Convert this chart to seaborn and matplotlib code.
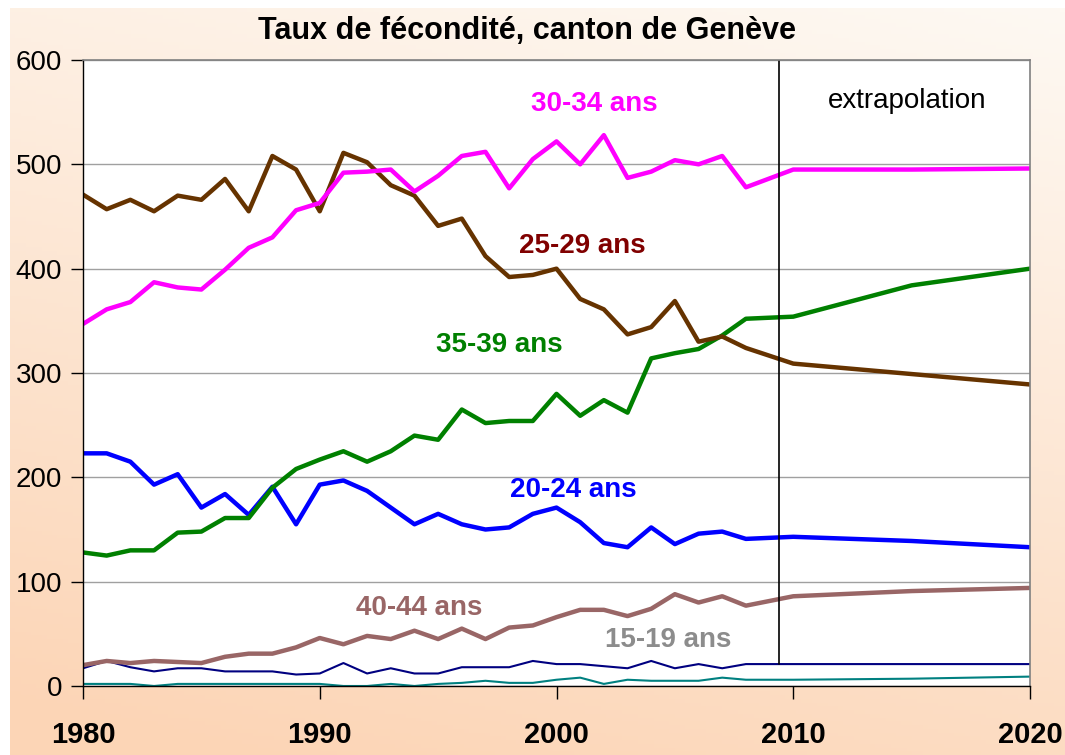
import numpy as np
import pandas as pd
import matplotlib
matplotlib.use('Agg')
import matplotlib.pyplot as plt
import seaborn as sns

# Years: observed 1980-2008, then extrapolation points
years = [1980, 1981, 1982, 1983, 1984, 1985, 1986, 1987, 1988, 1989,
         1990, 1991, 1992, 1993, 1994, 1995, 1996, 1997, 1998, 1999,
         2000, 2001, 2002, 2003, 2004, 2005, 2006, 2007, 2008,
         2010, 2015, 2020]

# Fertility rates per age group
ans_30_34 = [347, 361, 368, 387, 382, 380, 399, 420, 430, 456,
             463, 492, 493, 495, 474, 489, 508, 512, 477, 505,
             522, 500, 528, 487, 493, 504, 500, 508, 478,
             495, 495, 496]
ans_25_29 = [471, 457, 466, 455, 470, 466, 486, 455, 508, 495,
             455, 511, 502, 480, 470, 441, 448, 412, 392, 394,
             400, 371, 361, 337, 344, 369, 330, 335, 324,
             309, 299, 289]
ans_35_39 = [128, 125, 130, 130, 147, 148, 161, 161, 190, 208,
             217, 225, 215, 225, 240, 236, 265, 252, 254, 254,
             280, 259, 274, 262, 314, 319, 323, 336, 352,
             354, 384, 400]
ans_20_24 = [223, 223, 215, 193, 203, 171, 184, 164, 191, 155,
             193, 197, 187, 171, 155, 165, 155, 150, 152, 165,
             171, 157, 137, 133, 152, 136, 146, 148, 141,
             143, 139, 133]
ans_40_44 = [20, 24, 22, 24, 23, 22, 28, 31, 31, 37,
             46, 40, 48, 45, 53, 45, 55, 45, 56, 58,
             66, 73, 73, 67, 74, 88, 80, 86, 77,
             86, 91, 94]
ans_15_19 = [17, 24, 18, 14, 17, 17, 14, 14, 14, 11,
             12, 22, 12, 17, 12, 12, 18, 18, 18, 24,
             21, 21, 19, 17, 24, 17, 21, 17, 21,
             21, 21, 21]
ans_45_49 = [2, 2, 2, 0, 2, 2, 2, 2, 2, 2,
             2, 0, 0, 2, 0, 2, 3, 5, 3, 3,
             6, 8, 2, 6, 5, 5, 5, 8, 6,
             6, 7, 9]

extrapolation_start = 2009.4

sns.set_style('white')
plt.rcParams['font.family'] = ['Liberation Sans', 'DejaVu Sans']
plt.rcParams['text.color'] = 'black'
plt.rcParams['xtick.color'] = 'black'
plt.rcParams['ytick.color'] = 'black'

fig = plt.figure(figsize=(10.65, 7.55), dpi=100)
fig.patch.set_facecolor('white')

# Peach gradient background behind the chart
bg = fig.add_axes([10 / 1065, 0, 1 - 10 / 1065, 1 - 8 / 755], zorder=-10)
gy, gx = np.mgrid[0:1:200j, 0:1:200j]
t = np.clip(0.8 * gy + 0.25 * (1 - gx), 0, 1)
light = np.array([254, 249, 243]) / 255
dark = np.array([252, 213, 182]) / 255
grad = light[None, None, :] * (1 - t[..., None]) + dark[None, None, :] * t[..., None]
bg.imshow(grad, aspect='auto', extent=[0, 1, 0, 1], origin='upper')
bg.axis('off')

ax = fig.add_axes([83 / 1065, 1 - 686 / 755, (1030 - 83) / 1065, (686 - 60) / 755])
ax.set_facecolor('white')

series = [
    (ans_45_49, '#008080', 1.5),
    (ans_15_19, '#000080', 1.5),
    (ans_40_44, '#996666', 3.2),
    (ans_20_24, '#0000FF', 3.2),
    (ans_35_39, '#008000', 3.2),
    (ans_25_29, '#663300', 3.2),
    (ans_30_34, '#FF00FF', 3.2),
]
for values, color, lw in series:
    df = pd.DataFrame({'annee': years, 'taux': values})
    sns.lineplot(data=df, x='annee', y='taux', color=color, linewidth=lw, ax=ax)

# extrapolation divider
ax.plot([extrapolation_start, extrapolation_start], [21, 600], color='black', linewidth=1.2)

ax.set_xlim(1980, 2020)
ax.set_ylim(0, 600)
ax.set_xticks([1980, 1990, 2000, 2010, 2020])
ax.set_yticks([0, 100, 200, 300, 400, 500, 600])
ax.yaxis.grid(True, color='#a0a0a0', linewidth=1.0)
ax.set_axisbelow(True)
ax.set_xlabel('')
ax.set_ylabel('')

for side in ['top', 'right']:
    ax.spines[side].set_color('#808080')
    ax.spines[side].set_linewidth(1.2)
for side in ['left', 'bottom']:
    ax.spines[side].set_color('black')
    ax.spines[side].set_linewidth(1.0)

ax.tick_params(axis='y', direction='out', length=9, width=1, color='black',
               labelsize=20, pad=6, left=True, labelcolor='black')
ax.tick_params(axis='x', direction='out', length=9, width=1, color='black',
               labelsize=21, pad=16, bottom=True, labelcolor='black')
for lab in ax.get_xticklabels():
    lab.set_fontweight('bold')

# Series labels
label_style = dict(fontsize=20, fontweight='bold', ha='center', va='center')
ax.text(2001.6, 558, '30-34 ans', color='#FF00FF', **label_style)
ax.text(2001.1, 422, '25-29 ans', color='#800000', **label_style)
ax.text(1997.6, 327, '35-39 ans', color='#008000', **label_style)
ax.text(2000.7, 188, '20-24 ans', color='#0000FF', **label_style)
ax.text(1994.2, 75, '40-44 ans', color='#996666', **label_style)
ax.text(2004.7, 44, '15-19 ans', color='#8c8c8c', **label_style)
ax.text(2014.8, 561, 'extrapolation', color='black', fontsize=20, ha='center', va='center')

fig.text(527 / 1065, 1 - 31 / 755, 'Taux de fécondité, canton de Genève',
         fontsize=22, fontweight='bold', ha='center', va='center', color='black')

fig.savefig('out.png', dpi=100)
